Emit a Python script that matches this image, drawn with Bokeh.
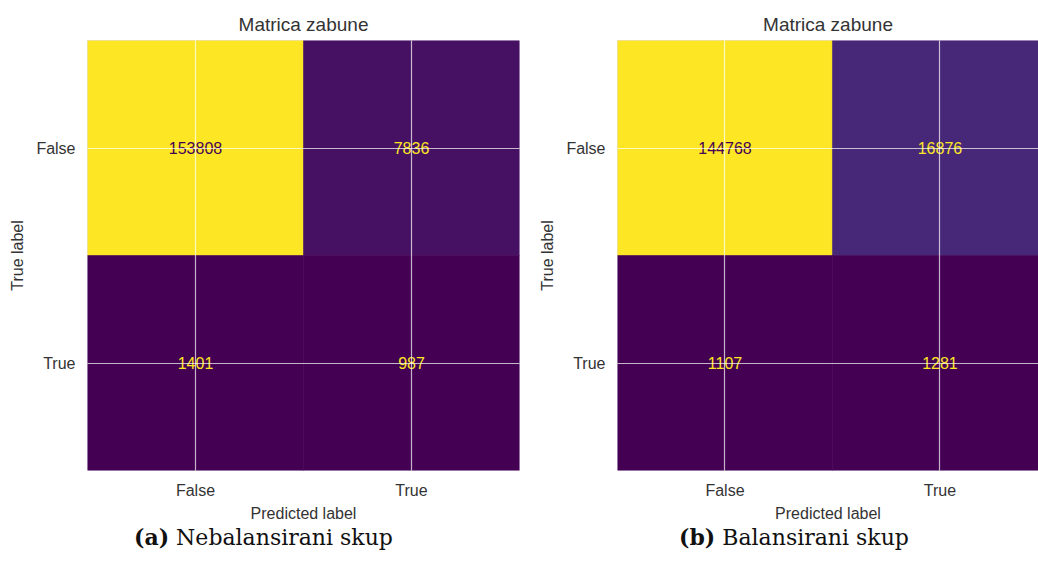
from bokeh.plotting import figure
from bokeh.models import Range1d, FixedTicker, LinearColorMapper, ColumnDataSource, Div
from bokeh.layouts import column, row
from bokeh.palettes import Viridis256
from bokeh.transform import transform
from bokeh.core.properties import value
from bokeh.embed import file_html
from bokeh.resources import INLINE

# ---- data ----
classes = ["False", "True"]
cm_unbalanced = [[153808, 7836], [1401, 987]]
cm_balanced = [[144768, 16876], [1107, 1281]]
title_text = "Matrica zabune"
x_label = "Predicted label"
y_label = "True label"
caption_tags = ["(a)", "(b)"]
caption_texts = ["Nebalansirani skup", "Balansirani skup"]

FONT = "Liberation Sans"
TXT = "#333333"
FRAME_H = 430
CELL_W = 216


def make_panel(cm, width, border_left, border_right, frame_w):
    vals = [v for r in cm for v in r]
    lo, hi = min(vals), max(vals)
    thresh = (lo + hi) / 2.0
    xs, ys, vs, labels, tcols = [], [], [], [], []
    for i, r in enumerate(cm):
        for j, v in enumerate(r):
            xs.append(j)
            ys.append(i)
            vs.append(v)
            labels.append(str(v))
            tcols.append(Viridis256[0] if v >= thresh else Viridis256[-1])
    src = ColumnDataSource(dict(x=xs, y=ys, v=vs, label=labels, tcol=tcols))
    mapper = LinearColorMapper(palette=Viridis256, low=lo, high=hi)

    x_end = -0.5 + frame_w / CELL_W
    p = figure(width=width, height=40 + FRAME_H + 55,
               x_range=Range1d(-0.5, x_end), y_range=Range1d(1.5, -0.5),
               output_backend="svg", toolbar_location=None,
               min_border_left=border_left, min_border_right=border_right,
               min_border_top=40, min_border_bottom=55,
               title=title_text)
    p.rect(x="x", y="y", width=1, height=1, source=src,
           fill_color=transform("v", mapper),
           line_color=transform("v", mapper), line_width=0.6)
    p.text(x="x", y="y", text="label", source=src, text_color="tcol",
           text_align="center", text_baseline="middle",
           text_font=value(FONT), text_font_size="16px")

    p.title.align = "center"
    p.title.text_font = FONT
    p.title.text_font_size = "19px"
    p.title.text_font_style = "normal"
    p.title.text_color = TXT
    p.title.standoff = 11

    for ax, lab in ((p.xaxis, x_label), (p.yaxis, y_label)):
        ax.ticker = FixedTicker(ticks=[0, 1])
        ax.major_label_overrides = {i: c for i, c in enumerate(classes)}
        ax.axis_label = lab
        ax.axis_label_text_font = FONT
        ax.axis_label_text_font_size = "16px"
        ax.axis_label_text_font_style = "normal"
        ax.axis_label_text_color = TXT
        ax.major_label_text_font = FONT
        ax.major_label_text_font_size = "16px"
        ax.major_label_text_color = TXT
        ax.axis_line_color = None
        ax.major_tick_line_color = None
        ax.minor_tick_line_color = None
        ax.major_tick_out = 0
        ax.major_tick_in = 0
    p.xaxis.major_label_standoff = 11
    p.xaxis.axis_label_standoff = 3
    p.yaxis.major_label_standoff = 12
    p.yaxis.axis_label_standoff = 7
    p.yaxis.major_label_orientation = "horizontal"

    p.xgrid.ticker = FixedTicker(ticks=[0, 1])
    p.ygrid.ticker = FixedTicker(ticks=[0, 1])
    p.grid.level = "annotation"
    p.grid.grid_line_color = "white"
    p.grid.grid_line_alpha = 0.7
    p.grid.grid_line_width = 1.2
    p.outline_line_color = "#e6dcec"
    p.outline_line_width = 1
    p.background_fill_color = "white"
    p.border_fill_color = "white"
    return p


p1 = make_panel(cm_unbalanced, 536, 87, 17, 432)
p2 = make_panel(cm_balanced, 502, 79, 0, 423)

cap_style = ("font-family:'DejaVu Serif';font-size:22px;color:#111;line-height:26px;"
             "text-align:center;box-sizing:content-box;margin:-6px 0 0 0;")
d1 = Div(text=f"<div style=\"{cap_style}width:517px;padding-left:0px;\"><b>{caption_tags[0]}</b> {caption_texts[0]}</div>",
         width=525, height=30)
d2 = Div(text=f"<div style=\"{cap_style}width:508px;padding-left:0px;\"><b>{caption_tags[1]}</b> {caption_texts[1]}</div>",
         width=513, height=30)

layout = column(row(p1, p2), row(d1, d2))
open("out.html", "w").write(file_html(layout, INLINE))
